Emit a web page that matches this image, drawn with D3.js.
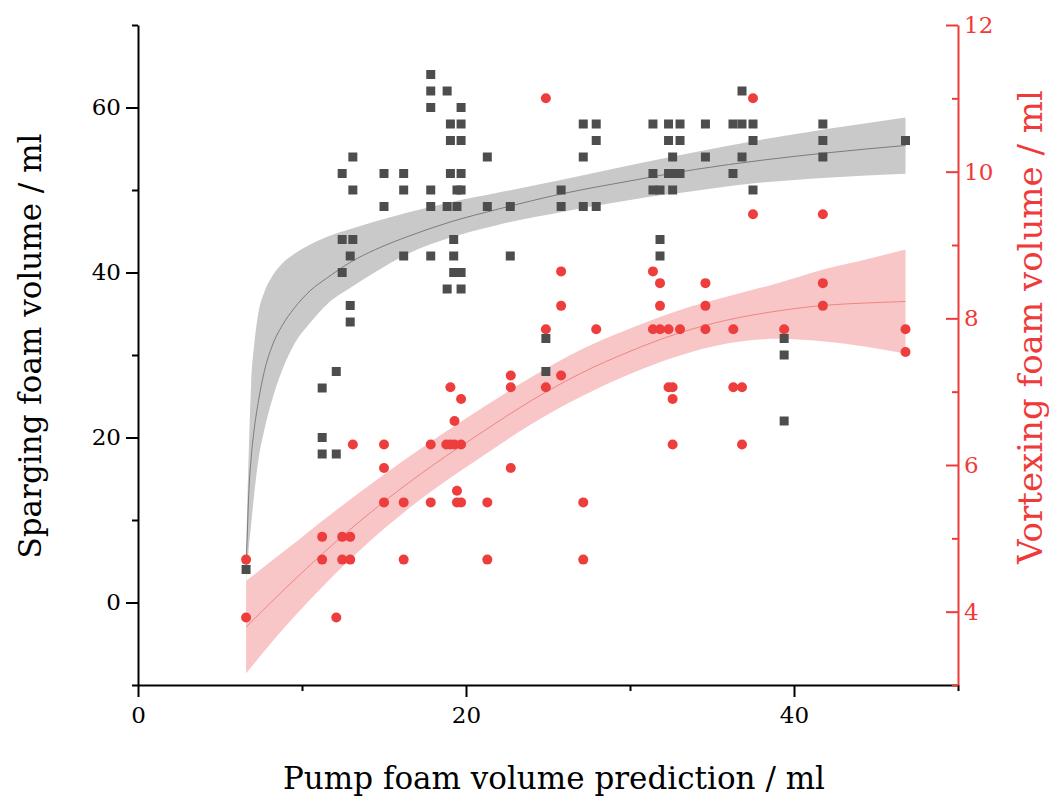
<!DOCTYPE html>
<html>
<head>
<meta charset="utf-8">
<script src="https://cdn.jsdelivr.net/npm/d3@7/dist/d3.min.js"></script>
<style>
  body { margin: 0; background: #fff; }
  text { font-family: "DejaVu Serif", serif; }
</style>
</head>
<body>
<div id="chart"></div>
<script>
// sparging foam (left axis), squares
var spargX = [6.59, 11.23, 11.23, 11.23, 12.09, 12.09, 12.45, 12.45, 12.45, 12.94, 12.94, 12.94,
  13.1, 13.1, 13.1, 15.0, 15.0, 16.2, 16.2, 16.2, 17.85, 17.85, 17.85, 17.85, 17.85, 17.85,
  18.85, 18.85, 18.85, 19.05, 19.05, 19.05, 19.25, 19.25, 19.25, 19.45, 19.45,
  19.7, 19.7, 19.7, 19.7, 19.7, 19.7, 19.7, 21.3, 21.3, 22.7, 22.7, 24.87, 24.87, 25.8, 25.8,
  27.15, 27.15, 27.15, 27.94, 27.94, 27.94, 31.4, 31.4, 31.4, 31.83, 31.83, 31.83,
  32.35, 32.35, 32.35, 32.6, 32.6, 32.6, 33.05, 33.05, 33.05, 34.6, 34.6, 36.28, 36.28,
  36.83, 36.83, 36.83, 37.5, 37.5, 37.5, 39.4, 39.4, 39.4, 41.76, 41.76, 41.76, 46.8];
var spargVol = [4, 26, 20, 18, 28, 18, 52, 44, 40, 42, 36, 34,
  54, 50, 44, 52, 48, 52, 50, 42, 64, 62, 60, 50, 48, 42,
  62, 48, 38, 58, 56, 52, 44, 42, 40, 50, 48,
  60, 58, 56, 52, 50, 40, 38, 54, 48, 48, 42, 32, 28, 50, 48,
  58, 54, 48, 58, 56, 48, 58, 52, 50, 50, 44, 42,
  58, 56, 52, 54, 52, 50, 58, 56, 52, 58, 54, 58, 52,
  62, 58, 54, 58, 56, 50, 32, 30, 22, 58, 56, 54, 56];

// vortexing foam (right axis), circles
var vortX = [6.59, 6.59, 11.23, 11.23, 12.09, 12.45, 12.45, 12.94, 12.94, 13.1,
  15.0, 15.0, 15.0, 16.2, 16.2, 17.85, 17.85, 18.8, 19.05, 19.05, 19.3, 19.3, 19.45, 19.45,
  19.7, 19.7, 19.7, 21.3, 21.3, 22.73, 22.73, 22.73, 24.87, 24.87, 24.87, 25.8, 25.8, 25.8,
  27.15, 27.15, 27.94, 31.4, 31.4, 31.83, 31.83, 31.83, 32.35, 32.35, 32.6, 32.6, 32.6,
  33.05, 34.6, 34.6, 34.6, 36.3, 36.3, 36.83, 36.83, 37.5, 37.5, 39.4, 41.76, 41.76, 41.76,
  46.8, 46.8];
var vortVol = [4.71, 3.92, 5.02, 4.71, 3.92, 5.02, 4.71, 5.02, 4.71, 6.28,
  6.28, 5.96, 5.49, 5.49, 4.71, 6.28, 5.49, 6.28, 7.06, 6.28, 6.6, 6.28, 5.65, 5.49,
  6.9, 6.28, 5.49, 5.49, 4.71, 7.22, 7.06, 5.96, 11, 7.85, 7.06, 8.64, 8.17, 7.22,
  5.49, 4.71, 7.85, 8.64, 7.85, 8.48, 8.17, 7.85, 7.85, 7.06, 7.06, 6.9, 6.28,
  7.85, 8.48, 8.17, 7.85, 7.85, 7.06, 7.06, 6.28, 11, 9.42, 7.85, 9.42, 8.48, 8.17,
  7.85, 7.54];

// sparging fit curve and confidence band
var spargFitX = [6.59, 6.65, 6.75, 6.9, 7.1, 7.35, 7.7, 8.2, 8.8, 9.5, 10.5, 11.5, 13, 14.5,
  16.5, 19, 22, 26, 30, 34, 38, 42, 46.8];
var spargFit = [4.3, 7.5, 13, 17.5, 21.2, 24.5, 28, 31.2, 33.6, 35.6, 37.8, 39.3, 41.3, 42.8,
  44.4, 46.1, 47.7, 49.6, 51.1, 52.5, 53.6, 54.5, 55.4];
var spargUpper = [6, 11, 18, 26.5, 31.5, 35.2, 37.6, 39.6, 41.1, 42.2, 43.4, 44.3, 45.3, 46.2,
  47.3, 48.5, 49.7, 51.3, 53.0, 54.6, 56.1, 57.4, 58.8];
var spargLower = [2.6, 4, 6.5, 9.5, 13.4, 17.4, 20.9, 24.7, 28.2, 31.2, 33.9, 36.1, 38.2, 40.1,
  42.3, 44.2, 45.8, 47.4, 48.8, 49.9, 50.9, 51.5, 51.96];

// vortexing fit curve and confidence band
var vortFitX = [6.59, 9, 12, 15, 18, 21, 24, 27, 30, 33, 36, 39, 42, 44.5, 46.8];
var vortFit = [3.79, 4.32, 4.94, 5.5, 6.0, 6.45, 6.88, 7.25, 7.55, 7.8, 7.98, 8.1, 8.18, 8.21, 8.23];
var vortUpper = [4.42, 4.84, 5.37, 5.87, 6.34, 6.78, 7.2, 7.57, 7.86, 8.11, 8.3, 8.48, 8.68, 8.81, 8.94];
var vortLower = [3.16, 3.8, 4.51, 5.13, 5.66, 6.12, 6.56, 6.93, 7.24, 7.49, 7.66, 7.72, 7.68, 7.61, 7.52];

var xTicks = [0, 20, 40], xMinor = [10, 30, 50];
var leftTicks = [0, 20, 40, 60], leftMinor = [-10, 10, 30, 50, 70];
var rightTicks = [4, 6, 8, 10, 12], rightMinor = [3, 5, 7, 9, 11];

var width = 1050, height = 796;
// plot box (note: "top" is reserved on window, so use other names)
var plotLeft = 138, plotRight = 958, plotTop = 25, plotBottom = 685;
var red = '#f03a3a';

var svg = d3.select('#chart').append('svg')
  .attr('width', width)
  .attr('height', height);

var x = d3.scaleLinear().domain([0, 50]).range([plotLeft, plotRight]);
var yL = d3.scaleLinear().domain([-10, 70]).range([plotBottom, plotTop]);
var yR = d3.scaleLinear().domain([3, 12]).range([plotBottom, plotTop]);

function band(xs, lo, hi, yScale) {
  return d3.area()
    .x(function(d, i) { return x(xs[i]); })
    .y0(function(d, i) { return yScale(lo[i]); })
    .y1(function(d, i) { return yScale(hi[i]); })
    .curve(d3.curveMonotoneX)(xs);
}
function curve(xs, ys, yScale) {
  return d3.line()
    .x(function(d, i) { return x(xs[i]); })
    .y(function(d, i) { return yScale(ys[i]); })
    .curve(d3.curveMonotoneX)(xs);
}

// bands
svg.append('path').attr('d', band(spargFitX, spargLower, spargUpper, yL))
  .attr('fill', '#c9c9c9');
svg.append('path').attr('d', band(vortFitX, vortLower, vortUpper, yR))
  .attr('fill', '#f8c6c6');
svg.append('path').attr('d', curve(spargFitX, spargFit, yL))
  .attr('fill', 'none').attr('stroke', '#7c7c7c').attr('stroke-width', 1);
svg.append('path').attr('d', curve(vortFitX, vortFit, yR))
  .attr('fill', 'none').attr('stroke', '#f08585').attr('stroke-width', 1);

// points
svg.append('g').selectAll('path')
  .data(spargX).enter()
  .append('path')
  .attr('d', d3.symbol(d3.symbolSquare, 81))
  .attr('transform', function(d, i) { return 'translate(' + x(d) + ',' + yL(spargVol[i]) + ')'; })
  .attr('fill', '#4d4d4d');

svg.append('g').selectAll('circle')
  .data(vortX).enter()
  .append('circle')
  .attr('cx', function(d) { return x(d); })
  .attr('cy', function(d, i) { return yR(vortVol[i]); })
  .attr('r', 5)
  .attr('fill', '#ee3d3d');

// axes
function styleAxis(g, color) {
  g.selectAll('.domain').attr('stroke', color).attr('stroke-width', 2);
  g.selectAll('.tick line').attr('stroke', color).attr('stroke-width', 2);
  g.selectAll('text').attr('fill', color).style('font-size', '23px')
    .style('font-family', '"DejaVu Serif", serif');
}

var gx = svg.append('g').attr('transform', 'translate(0,' + plotBottom + ')');
gx.call(d3.axisBottom(x).tickValues(xTicks).tickSize(12).tickSizeOuter(0).tickPadding(10).tickFormat(d3.format('d')));
gx.append('g').call(d3.axisBottom(x).tickValues(xMinor).tickSize(6).tickSizeOuter(0).tickFormat(''))
  .select('.domain').remove();
styleAxis(gx, '#000');

var gl = svg.append('g').attr('transform', 'translate(' + plotLeft + ',0)');
gl.call(d3.axisLeft(yL).tickValues(leftTicks).tickSize(12).tickSizeOuter(0).tickPadding(5).tickFormat(d3.format('d')));
gl.append('g').call(d3.axisLeft(yL).tickValues(leftMinor).tickSize(6).tickSizeOuter(0).tickFormat(''))
  .select('.domain').remove();
styleAxis(gl, '#000');

var gr = svg.append('g').attr('transform', 'translate(' + plotRight + ',0)');
gr.call(d3.axisRight(yR).tickValues(rightTicks).tickSize(-12).tickSizeOuter(0).tickPadding(6).tickFormat(d3.format('d')));
gr.append('g').call(d3.axisRight(yR).tickValues(rightMinor).tickSize(-6).tickSizeOuter(0).tickFormat(''))
  .select('.domain').remove();
styleAxis(gr, red);

// titles
svg.append('text')
  .attr('x', 554).attr('y', 789)
  .attr('text-anchor', 'middle')
  .style('font-size', '31px')
  .attr('fill', '#000')
  .text('Pump foam volume prediction / ml');

svg.append('text')
  .attr('transform', 'translate(41,346) rotate(-90)')
  .attr('text-anchor', 'middle')
  .style('font-size', '31px')
  .attr('fill', '#000')
  .text('Sparging foam volume / ml');

svg.append('text')
  .attr('transform', 'translate(1042,327) rotate(-90)')
  .attr('text-anchor', 'middle')
  .style('font-size', '34px')
  .attr('fill', red)
  .text('Vortexing foam volume / ml');
</script>
</body>
</html>
